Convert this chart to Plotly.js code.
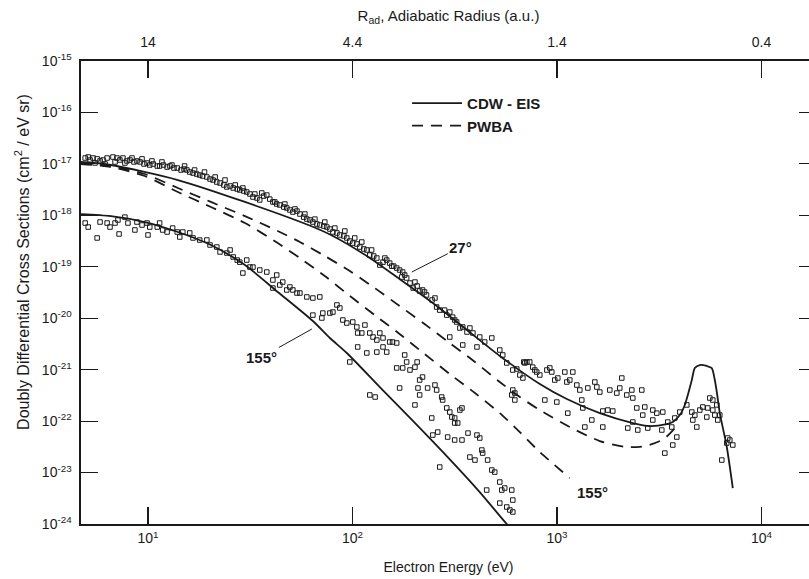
<!DOCTYPE html>
<html><head><meta charset="utf-8">
<script src="https://cdn.plot.ly/plotly-3.0.1.min.js"></script>
<style>html,body{margin:0;padding:0;overflow:hidden;background:#fff;width:809px;height:579px}#chart{width:830px;height:579px}</style>
</head><body><div id="chart"></div>
<script>
// ---- theory curves ----
const cdw27E = [4.70, 6.59, 14.0, 29.8, 62.6, 80.2, 117.5, 170, 247, 363, 525, 824, 1117, 1619, 2350, 2843, 3444, 3686, 3986, 4217, 4362, 4563, 4720, 4992, 5401, 5714, 5911, 6045, 6253, 6765, 7239];
const cdw27Y = [1.09e-17, 9.51e-18, 4.86e-18, 1.82e-18, 6.2e-19, 3.97e-19, 1.62e-19, 5.78e-20, 1.98e-20, 5.90e-21, 1.85e-21, 5.26e-22, 2.69e-22, 1.43e-22, 9.18e-23, 8.02e-23, 8.78e-23, 9.6e-23, 1.31e-22, 2.06e-22, 3.22e-22, 6.29e-22, 1.075e-21, 1.23e-21, 1.18e-21, 1.075e-21, 6.29e-22, 3.68e-22, 1.43e-22, 3.14e-23, 5.0e-24];

const pwbaAE = [4.70, 6.59, 9.64, 14.0, 20.3, 29.8, 43.1, 55.3, 73.2, 97.0, 128.5, 170, 225, 299, 397, 525, 658, 824, 1155, 1619, 2195, 2718, 3329, 3897];
const pwbaAY = [1.04e-17, 9.09e-18, 6.36e-18, 3.40e-18, 1.82e-18, 9.67e-19, 4.96e-19, 3.03e-19, 1.62e-19, 8.27e-20, 3.86e-20, 1.73e-20, 7.72e-21, 3.30e-21, 1.41e-21, 5.75e-22, 2.94e-22, 1.64e-22, 7.67e-23, 4.10e-23, 3.14e-23, 3.28e-23, 4.49e-23, 8.39e-23];

const pwbaBE = [4.70, 6.59, 9.64, 14.0, 20.3, 29.8, 43.1, 55.3, 73.2, 97.0, 128.5, 170, 225, 299, 397, 525, 658, 824, 1155];
const pwbaBY = [9.95e-18, 8.69e-18, 5.81e-18, 2.84e-18, 1.45e-18, 7.09e-19, 2.89e-19, 1.48e-19, 6.62e-20, 2.71e-20, 1.15e-20, 4.94e-21, 2.02e-21, 8.23e-22, 3.51e-22, 1.43e-22, 6.13e-23, 2.50e-23, 7.83e-24];

const cdw155E = [4.70, 6.59, 9.64, 14.0, 20.3, 29.8, 43.1, 64.0, 77.5, 93.8, 136, 198, 289, 419, 568, 658];
const cdw155Y = [1.06e-18, 9.66e-19, 7.41e-19, 4.74e-19, 2.65e-19, 1.08e-19, 3.24e-20, 8.82e-21, 4.13e-21, 2.11e-21, 4.6e-22, 1.0e-22, 2.09e-23, 4.18e-24, 1.0e-24, 5.4e-25];

// ---- measured data ----
const exp27E = [4.93,5.10,5.21,5.39,5.64,5.83,6.03,6.31,6.74,7.05,7.29,7.54,7.89,8.16,8.54,8.83,9.14,9.56,9.89,10.2,10.6,11.1,11.4,11.9,12.4,12.8,13.4,13.9,14.5,15.0,15.5,16.0,16.6,17.3,17.9,18.5,19.4,20.1,20.8,21.7,22.5,23.5,24.3,25.2,26.1,27.3,28.1,29.4,30.4,31.5,32.6,34.1,35.2,36.8,38.1,39.4,40.8,42.6,44.1,46.1,47.7,49.4,51.1,53.5,55.3,57.8,59.8,61.9,64.0,67.0,69.2,72.4,74.9,77.5,80.2,83.9,86.7,90.7,93.8,97.0,100.3,105,108.6,113.6,117.5,121.5,127,131.5,136,141,147,152,159,164.5,170,176,174,184,191,198,207,213,220,230,245,258,267,289,299,309,323,335,346,363,375,388,419,443,406,480,346,299,525,543,568,608,688,712,736,761,658,681,779,622,636,696,796,824,892,922,943,975,1009,1092,1195,1117,1155,1250,1293,1415,1531,1566,1619,1812,1961,2074,2028,2194,2322,2348,2598,2627,2456,2687,2941,3076,3291,3481,608,622,601,872,998,1129,1322,1337,1480,1368,1675,1675,1771,1874,2219,2348,2483,2779,2941,3255,3853,3683,3642,3367,3768,3986,4313,4563,4614,4827,4720,4992,5164,5461,5587,5779,5401,5779,6045,6112,6253,5911,6841,6998,7239,6396,6766,
  5.51,6.17,6.90,7.71,8.35,9.35,10.45,11.7,13.1,15.1,16.9,18.9,21.3,23.8,26.7,29.1,33.3,36.0,41.7,46.7,52.3,58.5,65.5,73.2,82.0,91.7,102.6,111,124,144,155.5,180,202,225,253,282,316];
const exp27Y = [1.30e-17,1.36e-17,1.19e-17,1.30e-17,1.25e-17,1.14e-17,1.19e-17,1.30e-17,1.36e-17,1.30e-17,1.19e-17,1.30e-17,1.14e-17,1.19e-17,1.09e-17,1.14e-17,1.09e-17,9.95e-18,1.04e-17,9.51e-18,9.95e-18,9.09e-18,9.09e-18,9.51e-18,8.69e-18,9.09e-18,8.31e-18,8.31e-18,7.60e-18,7.95e-18,7.60e-18,6.95e-18,6.64e-18,6.35e-18,6.08e-18,5.81e-18,5.56e-18,5.08e-18,4.86e-18,4.44e-18,4.25e-18,3.89e-18,3.56e-18,3.72e-18,3.40e-18,3.25e-18,3.11e-18,2.97e-18,2.84e-18,2.60e-18,2.27e-18,2.17e-18,1.99e-18,2.37e-18,2.48e-18,2.07e-18,1.82e-18,1.66e-18,1.59e-18,1.45e-18,1.39e-18,1.27e-18,1.16e-18,1.21e-18,1.06e-18,9.23e-19,8.44e-19,8.11e-19,7.41e-19,6.78e-19,6.48e-19,6.19e-19,5.92e-19,5.42e-19,4.74e-19,4.54e-19,4.15e-19,3.97e-19,3.63e-19,3.16e-19,2.89e-19,2.77e-19,2.42e-19,2.22e-19,2.12e-19,1.69e-19,1.62e-19,1.48e-19,1.08e-19,1.23e-19,1.35e-19,1.18e-19,1.03e-19,9.44e-20,8.65e-20,7.91e-20,6.32e-20,6.05e-20,4.83e-20,3.86e-20,4.23e-20,3.38e-20,3.54e-20,2.83e-20,2.26e-20,1.65e-20,1.44e-20,1.15e-20,1.32e-20,1.05e-20,8.44e-21,6.45e-21,6.75e-21,5.39e-21,6.45e-21,5.16e-21,4.31e-21,3.45e-21,2.76e-21,4.13e-21,3.02e-21,4.31e-21,2.41e-21,1.93e-21,1.35e-21,9.85e-22,1.41e-21,1.41e-21,1.41e-21,1.12e-21,7.87e-22,6.88e-22,9.85e-22,3.51e-22,1.03e-21,1.35e-21,9.0e-22,7.87e-22,9.85e-22,1.08e-21,9.0e-22,6.29e-22,6.88e-22,9.0e-22,9.0e-22,5.75e-22,6.29e-22,5.03e-22,4.02e-22,4.40e-22,5.75e-22,4.60e-22,3.67e-22,4.02e-22,3.51e-22,6.88e-22,4.40e-22,3.22e-22,4.02e-22,2.81e-22,4.02e-22,1.31e-22,1.80e-22,1.88e-22,1.64e-22,1.43e-22,1.50e-22,9.6e-23,4.02e-22,2.57e-22,3.22e-22,2.57e-22,2.35e-22,1.43e-22,2.57e-22,1.80e-22,1.05e-22,7.67e-23,7.67e-23,1.57e-22,1.64e-22,1.57e-22,7.33e-23,9.6e-23,6.71e-23,7.33e-23,1.05e-22,6.71e-23,4.90e-23,3.43e-23,7.67e-23,2.39e-23,1.15e-22,1.50e-22,2.06e-22,1.50e-22,1.05e-22,7.67e-23,1.31e-22,1.64e-22,1.88e-22,1.80e-22,2.81e-22,2.57e-22,1.20e-22,1.64e-22,2.06e-22,1.05e-22,1.31e-22,1.31e-22,4.69e-23,4.29e-23,3.43e-23,1.75e-23,3.75e-23,
  1.04e-17,9.95e-18,1.09e-17,1.04e-17,1.30e-17,1.25e-17,1.14e-17,1.09e-17,9.51e-18,9.09e-18,7.60e-18,6.95e-18,5.56e-18,4.86e-18,3.89e-18,3.40e-18,2.60e-18,2.72e-18,1.82e-18,1.66e-18,1.33e-18,1.06e-18,8.44e-19,7.41e-19,5.66e-19,4.96e-19,3.63e-19,3.03e-19,2.12e-19,1.48e-19,1.03e-19,6.92e-20,5.05e-20,3.24e-20,2.47e-20,1.44e-20,9.23e-21];

const exp155E = [4.93,5.10,5.64,5.83,6.31,6.52,6.90,7.13,7.22,7.71,7.98,8.63,8.83,9.35,9.89,10.2,11.1,11.4,11.8,12.4,13.2,13.9,14.3,14.8,16.0,16.6,17.9,19.4,20.1,21.7,22.5,24.3,25.2,26.1,27.3,28.1,30.4,31.5,32.6,35.2,38.1,29.1,40.8,42.6,44.1,45.6,47.7,49.4,51.1,53.5,40.8,55.3,59.8,64.0,69.2,64.0,70.8,71.6,77.5,80.2,83.9,86.7,89.7,93.8,100.3,105,106,111,115,121.5,126,131.5,136,141,152,157,164.5,106,117.5,131.5,141,147,164.5,176,180,184,191,202,207,213,220,170,202,209,213,233,253,258,273,276,244,289,299,306,316,335,343,316,327,247,261,292,316,343,367,406,419,375,397,429,433,458,480,496,525,453,537,555,601,608,525,568,588,608,267,97,121.5,129,10.0];
const exp155Y = [7.09e-19,5.92e-19,3.63e-19,7.41e-19,7.09e-19,5.92e-19,7.09e-19,8.11e-19,4.34e-19,9.23e-19,7.09e-19,5.19e-19,7.41e-19,6.48e-19,7.09e-19,5.92e-19,5.92e-19,7.09e-19,5.19e-19,4.74e-19,5.66e-19,4.74e-19,3.79e-19,4.74e-19,4.54e-19,3.63e-19,3.31e-19,3.31e-19,2.65e-19,2.42e-19,1.94e-19,1.85e-19,2.12e-19,1.55e-19,1.35e-19,1.23e-19,1.35e-19,9.87e-20,9.87e-20,8.65e-20,7.91e-20,7.56e-20,5.53e-20,6.92e-20,4.42e-20,5.05e-20,3.54e-20,4.04e-20,3.54e-20,3.09e-20,3.86e-20,3.09e-20,2.59e-20,2.47e-20,2.59e-20,1.15e-20,1.01e-20,1.26e-20,1.26e-20,1.32e-20,1.81e-20,1.58e-20,9.23e-21,8.07e-21,8.44e-21,6.75e-21,5.16e-21,5.16e-21,7.38e-21,5.16e-21,4.31e-21,3.77e-21,5.16e-21,4.13e-21,3.45e-21,3.45e-21,3.30e-21,2.76e-21,2.11e-21,2.20e-21,2.76e-21,2.20e-21,1.08e-21,1.08e-21,1.93e-21,1.41e-21,9.85e-22,1.12e-21,1.41e-21,6.29e-22,7.19e-22,4.40e-22,2.06e-22,4.40e-22,3.22e-22,4.40e-22,5.03e-22,4.02e-22,2.94e-22,2.57e-22,1.15e-22,1.80e-22,1.50e-22,1.20e-22,1.15e-22,1.64e-22,1.80e-22,9.18e-23,9.18e-23,5.36e-23,6.13e-23,4.90e-23,4.29e-23,4.29e-23,5.86e-23,5.36e-23,4.69e-23,2.0e-23,1.75e-23,2.74e-23,2.39e-23,1.75e-23,1.12e-23,1.02e-23,6.54e-24,4.57e-24,4.57e-24,5.0e-24,4.57e-24,2.92e-24,2.55e-24,2.14e-24,1.87e-24,1.71e-24,1.28e-23,1.41e-21,3.22e-22,2.94e-22,4.15e-19];

// ---- axis labels ----
const energyTicks = [10, 100, 1000, 10000];
const energyExp = ['1', '2', '3', '4'];
const radiusTickText = ['14', '4.4', '1.4', '0.4'];
const sigmaTicks = [1e-24, 1e-23, 1e-22, 1e-21, 1e-20, 1e-19, 1e-18, 1e-17, 1e-16, 1e-15];
const sigmaExp = ['-24','-23','-22','-21','-20','-19','-18','-17','-16','-15'];
const pow10 = s => '10<sup>' + s + '</sup>';

// label anchors (values on the chart's scales)
const label27 = {E: 195, Y: 7.91e-20};
const label155a = {E: 63.3, Y: 6.17e-21};
const label155b = {E: 1497, Y: 4.18e-24};

const FONT = 'Liberation Sans, Arial, Helvetica, sans-serif';
const INK = '#1a1a1a';

const solid = {color: INK, width: 1.8, shape: 'spline', smoothing: 0.7};
const dashed = {color: INK, width: 1.8, dash: '11px,8px', shape: 'spline', smoothing: 0.7};
const mk = {symbol: 'square-open', size: 4.5, color: INK, line: {width: 1, color: INK}};

const traces = [
  {x: cdw27E, y: cdw27Y, mode: 'lines', line: solid, name: 'CDW - EIS', showlegend: true, hoverinfo: 'skip'},
  {x: pwbaAE, y: pwbaAY, mode: 'lines', line: dashed, name: 'PWBA', showlegend: true, hoverinfo: 'skip'},
  {x: pwbaBE, y: pwbaBY, mode: 'lines', line: dashed, showlegend: false, hoverinfo: 'skip'},
  {x: cdw155E, y: cdw155Y, mode: 'lines', line: solid, showlegend: false, hoverinfo: 'skip'},
  {x: exp27E, y: exp27Y, mode: 'markers', marker: mk, showlegend: false, hoverinfo: 'skip'},
  {x: exp155E, y: exp155Y, mode: 'markers', marker: mk, showlegend: false, hoverinfo: 'skip'},
  {x: cdw27E, y: cdw27Y, xaxis: 'x2', mode: 'lines', line: {width: 0}, opacity: 0, showlegend: false, hoverinfo: 'skip'}
];

const xr = [0.6724, 4.2665];
const axisCommon = {
  type: 'log', ticks: 'inside', ticklen: 17, tickwidth: 1.2, tickcolor: INK,
  showline: true, linecolor: INK, linewidth: 1.6, showgrid: false, zeroline: false,
  tickfont: {family: FONT, size: 14, color: INK}
};

const layout = {
  width: 830, height: 579,
  margin: {l: 81, r: 14, t: 61, b: 55},
  paper_bgcolor: '#fff', plot_bgcolor: '#fff',
  font: {family: FONT, color: INK},
  showlegend: true,
  legend: {x: 0.4436, xanchor: 'left', y: 0.944, yanchor: 'top', bgcolor: 'rgba(0,0,0,0)',
           font: {family: FONT, size: 15, color: INK, weight: 'bold'}, itemwidth: 50, tracegroupgap: 0},
  xaxis: Object.assign({}, axisCommon, {range: xr, tickvals: energyTicks, ticktext: energyExp.map(pow10), ticklabelstandoff: 1,
          title: {text: 'Electron Energy (eV)', font: {family: FONT, size: 14, color: INK}, standoff: 17}}),
  xaxis2: Object.assign({}, axisCommon, {range: xr, overlaying: 'x', side: 'top', anchor: 'y',
          tickvals: energyTicks, ticktext: radiusTickText, ticklabelstandoff: 7,
          title: {text: 'R<sub>ad</sub>, Adiabatic Radius (a.u.)', font: {family: FONT, size: 15, color: INK}, standoff: 8}}),
  yaxis: Object.assign({}, axisCommon, {range: [-24, -15], tickvals: sigmaTicks, ticktext: sigmaExp.map(pow10), mirror: 'ticks', ticklabelstandoff: 5}),
  annotations: [
    {xref: 'paper', yref: 'paper', x: -0.0803, y: 0.566, xanchor: 'center', yanchor: 'middle', textangle: -90, showarrow: false,
     text: 'Doubly Differential Cross Sections (cm<sup>2</sup> / eV sr)', font: {family: FONT, size: 16, color: INK}},
    {x: Math.log10(label27.E), y: Math.log10(label27.Y), text: '27°', showarrow: true, arrowhead: 0, arrowwidth: 1, arrowcolor: INK,
     ax: 49, ay: -25, font: {family: FONT, size: 15, color: INK, weight: 'bold'}},
    {x: Math.log10(label155a.E), y: Math.log10(label155a.Y), text: '155°', showarrow: true, arrowhead: 0, arrowwidth: 1, arrowcolor: INK,
     ax: -50, ay: 28, font: {family: FONT, size: 15, color: INK, weight: 'bold'}},
    {x: Math.log10(label155b.E), y: Math.log10(label155b.Y), text: '155°', showarrow: false,
     font: {family: FONT, size: 15, color: INK, weight: 'bold'}}
  ]
};

Plotly.newPlot('chart', traces, layout, {staticPlot: true, displayModeBar: false});
</script></body></html>
